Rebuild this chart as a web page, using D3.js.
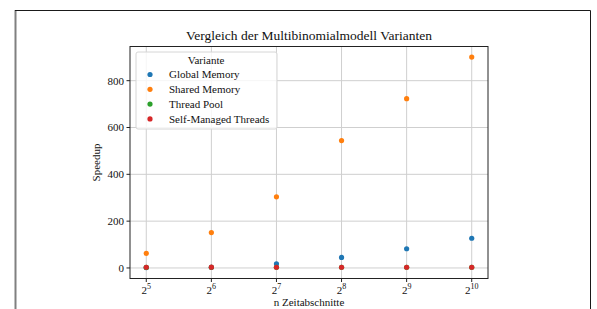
<!DOCTYPE html>
<html>
<head>
<meta charset="utf-8">
<script src="https://cdn.jsdelivr.net/npm/d3@7"></script>
<style>
  body { margin: 0; background: #fff; }
  svg text { font-family: "Liberation Serif", "DejaVu Serif", serif; fill: #111; }
</style>
</head>
<body>
<svg id="chart" width="597" height="309"></svg>
<script>
// n Zeitabschnitte (x values) and their exponents for the tick labels
const steps = [32, 64, 128, 256, 512, 1024]
const exponents = [5, 6, 7, 8, 9, 10]

// speedup per variant
const globalMemory = [1.5, 3, 18, 45, 82, 127]
const sharedMemory = [62, 151, 304, 544, 723, 901]
const threadPool = [2.5, 3, 3, 3, 3, 3]
const selfManaged = [3, 3.5, 3, 3, 3, 3]

const yTicks = [0, 200, 400, 600, 800]
const variants = ['Global Memory', 'Shared Memory', 'Thread Pool', 'Self-Managed Threads']
const colors = ['#1f77b4', '#ff7f0e', '#2ca02c', '#d62728']

const svg = d3.select('#chart')

// outer page frame
svg.append('line').attr('x1', 15.5).attr('x2', 15.5).attr('y1', 10).attr('y2', 309)
  .attr('stroke', '#808080').attr('stroke-width', 2)
svg.append('path').attr('d', 'M15 10.5 H590.5 V309')
  .attr('fill', 'none').attr('stroke', '#1a1a1a').attr('stroke-width', 1)

const plot = { left: 130, right: 488, top: 46.5, bottom: 278.5 }

// matplotlib style 5% margins on a log2 axis
const x = d3.scaleLog().base(2)
  .domain([Math.pow(2, 4.75), Math.pow(2, 10.25)])
  .range([plot.left, plot.right])
const y = d3.scaleLinear()
  .domain([-45, 946])
  .range([plot.bottom, plot.top])

const g = svg.append('g')

// grid
g.selectAll('.vgrid').data(steps).join('line')
  .attr('x1', d => x(d)).attr('x2', d => x(d))
  .attr('y1', plot.top).attr('y2', plot.bottom)
  .attr('stroke', '#cfcfcf').attr('stroke-width', 1)
g.selectAll('.hgrid').data(yTicks).join('line')
  .attr('x1', plot.left).attr('x2', plot.right)
  .attr('y1', d => y(d)).attr('y2', d => y(d))
  .attr('stroke', '#cfcfcf').attr('stroke-width', 1)

// points
const series = [globalMemory, sharedMemory, threadPool, selfManaged]
series.forEach((vals, i) => {
  g.append('g').selectAll('circle').data(vals).join('circle')
    .attr('cx', (d, j) => x(steps[j]))
    .attr('cy', d => y(d))
    .attr('r', 2.6)
    .attr('fill', colors[i])
})

// spines
g.append('rect')
  .attr('x', plot.left).attr('y', plot.top)
  .attr('width', plot.right - plot.left).attr('height', plot.bottom - plot.top)
  .attr('fill', 'none').attr('stroke', '#222').attr('stroke-width', 1)

// x ticks
const xt = g.selectAll('.xt').data(steps).join('g')
  .attr('transform', d => `translate(${x(d)},${plot.bottom})`)
xt.append('line').attr('y2', 3.5).attr('stroke', '#222')
const xl = xt.append('text').attr('y', 15).attr('text-anchor', 'middle')
  .attr('font-size', 11)
xl.append('tspan').text('2')
xl.append('tspan').attr('dy', -4.5).attr('font-size', 8).text((d, i) => exponents[i])

// y ticks
const yt = g.selectAll('.yt').data(yTicks).join('g')
  .attr('transform', d => `translate(${plot.left},${y(d)})`)
yt.append('line').attr('x2', -3.5).attr('stroke', '#222')
yt.append('text').attr('x', -6).attr('dy', '0.35em').attr('text-anchor', 'end')
  .attr('font-size', 11).text(d => d)

// axis labels and title
svg.append('text').attr('x', (plot.left + plot.right) / 2).attr('y', 306)
  .attr('text-anchor', 'middle').attr('font-size', 11).text('n Zeitabschnitte')
svg.append('text')
  .attr('transform', `translate(100,${(plot.top + plot.bottom) / 2}) rotate(-90)`)
  .attr('text-anchor', 'middle').attr('font-size', 11).text('Speedup')
svg.append('text').attr('x', (plot.left + plot.right) / 2).attr('y', 40)
  .attr('text-anchor', 'middle').attr('font-size', 13.5)
  .text('Vergleich der Multibinomialmodell Varianten')

// legend
const lg = svg.append('g').attr('transform', 'translate(136,52)')
lg.append('rect').attr('width', 141).attr('height', 77).attr('rx', 2)
  .attr('fill', 'rgba(255,255,255,0.8)').attr('stroke', '#d6d6d6')
lg.append('text').attr('x', 70).attr('y', 12).attr('text-anchor', 'middle')
  .attr('font-size', 11).text('Variante')
const items = lg.selectAll('.item').data(variants).join('g')
  .attr('transform', (d, i) => `translate(0,${22.5 + i * 14.8})`)
items.append('circle').attr('cx', 14).attr('r', 2.6).attr('fill', (d, i) => colors[i])
items.append('text').attr('x', 33).attr('dy', '0.35em').attr('font-size', 11).text(d => d)
</script>
</body>
</html>
